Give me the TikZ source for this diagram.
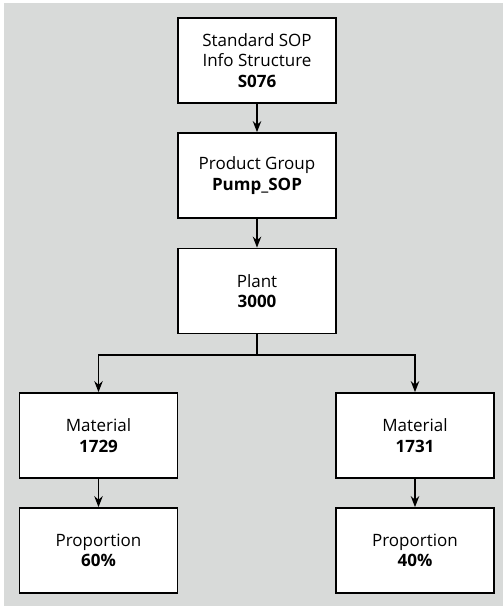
\documentclass[tikz,border=0pt]{standalone}
\usepackage{fontspec}
\setmainfont{Open Sans}
\usetikzlibrary{arrows.meta}
\definecolor{bggrey}{RGB}{216,218,217}
\tikzset{
  every path/.style={
    black,
    line width=1.4pt
  },
  levelbox/.style={
    draw,
    fill=white,
    line width=1.8pt,
    minimum width=158pt,
    minimum height=85pt,
    align=center,
    font=\fontsize{17}{20.5}\selectfont,
    inner sep=1.5pt
  },
  link/.style={
    -{Stealth[length=11pt,width=8.5pt]}
  }
}
\begin{document}
\begin{tikzpicture}[x=1pt,y=-1pt]
    % 背景
    \useasboundingbox (0,0) rectangle (503,606);
    \fill[bggrey] (4,3) rectangle (503,606);

    % 箱
    \node[levelbox] (S) at (257,60.5) {Standard SOP\\Info Structure\\\textbf{S076}};
    \node[levelbox] (G) at (257,175.5) {Product Group\\\textbf{Pump\_SOP}};
    \node[levelbox] (P) at (257,291) {Plant\\\textbf{3000}};
    \node[levelbox] (M1) at (98.5,435.5) {Material\\\textbf{1729}};
    \node[levelbox] (M2) at (415,435.5) {Material\\\textbf{1731}};
    \node[levelbox] (R1) at (98.5,550.5) {Proportion\\\textbf{60\%}};
    \node[levelbox] (R2) at (415,550.5) {Proportion\\\textbf{40\%}};

    % 矢印
    \coordinate (J) at (257,355);
    \draw[link] (S) -- (G);
    \draw[link] (G) -- (P);
    \draw (P) -- (J);
    \draw[link] (J) -| (M1);
    \draw[link] (J) -| (M2);
    \draw[link] (M1) -- (R1);
    \draw[link] (M2) -- (R2);
\end{tikzpicture}
\end{document}
